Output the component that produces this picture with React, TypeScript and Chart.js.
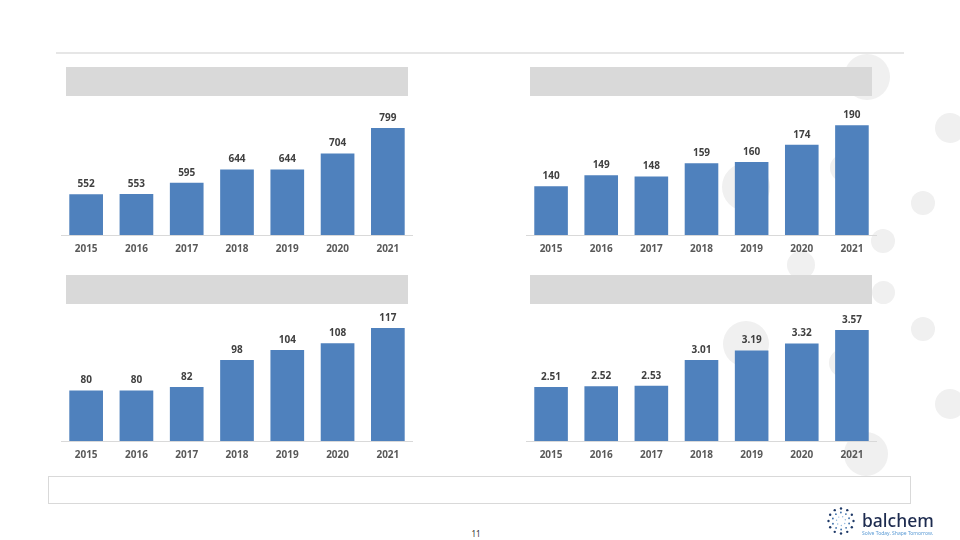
import React, { useEffect, useRef } from "react";
import { Chart, registerables } from "chart.js";

Chart.register(...registerables);

const years = ["2015", "2016", "2017", "2018", "2019", "2020", "2021"];
const panel1Values = [552, 553, 595, 644, 644, 704, 799];
const panel2Values = [140, 149, 148, 159, 160, 174, 190];
const panel3Values = [80, 80, 82, 98, 104, 108, 117];
const panel4Values = [2.51, 2.52, 2.53, 3.01, 3.19, 3.32, 3.57];

const FONT = "'Noto Sans', 'Open Sans', sans-serif";

const labelPlugin = {
  id: "valueLabels",
  afterDatasetsDraw(chart: any, _args: any, opts: any) {
    const ctx = chart.ctx;
    const meta = chart.getDatasetMeta(0);
    const data = chart.data.datasets[0].data as number[];
    const decimals = opts && typeof opts.decimals === "number" ? opts.decimals : 0;
    ctx.save();
    ctx.font = `bold 10px ${FONT}`;
    ctx.fillStyle = "#404040";
    ctx.textAlign = "center";
    ctx.textBaseline = "middle";
    meta.data.forEach((el: any, i: number) => {
      ctx.fillText(data[i].toFixed(decimals), el.x, el.y - 10);
    });
    ctx.restore();
  },
};

type PanelProps = {
  values: number[];
  min: number;
  max: number;
  decimals: number;
  left: number;
  top: number;
  width: number;
  height: number;
};

function BarPanel({ values, min, max, decimals, left, top, width, height }: PanelProps) {
  const ref = useRef<HTMLCanvasElement>(null);
  useEffect(() => {
    const chart = new Chart(ref.current as HTMLCanvasElement, {
      type: "bar",
      data: {
        labels: years,
        datasets: [
          {
            data: values,
            backgroundColor: "#4f81bd",
            borderWidth: 0,
            barPercentage: 0.67,
            categoryPercentage: 1,
          },
        ],
      },
      options: {
        animation: false,
        responsive: false,
        maintainAspectRatio: false,
        layout: { padding: { top: 30, left: 0, right: 0, bottom: 0 } },
        plugins: {
          legend: { display: false },
          tooltip: { enabled: false },
          valueLabels: { decimals },
        } as any,
        scales: {
          x: {
            grid: { display: false, drawTicks: false },
            border: { display: true, color: "#d9d9d9", width: 1 },
            ticks: {
              padding: 8,
              color: "#595959",
              font: { family: FONT, size: 10, weight: "bold" },
              maxRotation: 0,
              autoSkip: false,
            },
            afterFit: (s: any) => {
              s.height = 30;
            },
          },
          y: { display: false, min, max },
        },
      },
      plugins: [labelPlugin],
    });
    return () => chart.destroy();
  }, []);
  return (
    <canvas
      ref={ref}
      width={width}
      height={height}
      style={{ position: "absolute", left, top, width, height }}
    />
  );
}

const circles: [number, number, number][] = [
  [867, 77, 23],
  [950, 128, 15],
  [923, 203, 12],
  [883, 241, 12],
  [801, 265, 14],
  [746, 187, 24],
  [844, 168, 14],
  [883, 292, 11.5],
  [923, 329, 12],
  [950, 404, 15],
  [746, 344, 23],
  [843, 363, 14],
  [866, 454, 22],
];

function Logo() {
  const cx = 841;
  const cy = 521;
  const dots: JSX.Element[] = [];
  const rings = [
    { r: 12.5, n: 12, c: "#1f3a68", s: 1.2 },
    { r: 8.5, n: 10, c: "#3b6ea8", s: 0.9 },
    { r: 4.5, n: 7, c: "#8fb6dc", s: 0.7 },
  ];
  rings.forEach((ring, ri) => {
    for (let k = 0; k < ring.n; k++) {
      const a = (k / ring.n) * Math.PI * 2 + ri * 0.3;
      dots.push(
        <circle
          key={`${ri}-${k}`}
          cx={cx + ring.r * Math.cos(a)}
          cy={cy + ring.r * Math.sin(a)}
          r={ring.s}
          fill={ring.c}
        />
      );
    }
  });
  return (
    <svg
      width={960}
      height={540}
      style={{ position: "absolute", left: 0, top: 0, pointerEvents: "none" }}
    >
      {dots}
      <text
        x={862}
        y={527}
        fontFamily="'Noto Sans', sans-serif"
        fontSize={17.5}
        fontWeight={500}
        fill="#1d2b4f"
      >
        balchem
      </text>
      <text x={862} y={534.5} fontFamily="'Noto Sans', sans-serif" fontSize={5} fill="#5b9bd5">
        Solve Today. Shape Tomorrow.
      </text>
    </svg>
  );
}

export default function App() {
  const headers: [number, number][] = [
    [66, 67],
    [530, 67],
    [66, 275],
    [530, 275],
  ];
  return (
    <div
      style={{
        position: "absolute",
        left: 0,
        top: 0,
        width: 960,
        height: 540,
        background: "#ffffff",
        overflow: "hidden",
      }}
    >
      {circles.map(([x, y, r], i) => (
        <div
          key={i}
          style={{
            position: "absolute",
            left: x - r,
            top: y - r,
            width: r * 2,
            height: r * 2,
            borderRadius: "50%",
            background: "#f0f0f0",
          }}
        />
      ))}
      <div
        style={{
          position: "absolute",
          left: 56,
          top: 52,
          width: 848,
          height: 2,
          background: "#e6e6e6",
        }}
      />
      {headers.map(([x, y], i) => (
        <div
          key={i}
          style={{
            position: "absolute",
            left: x,
            top: y,
            width: 342,
            height: 29,
            background: "#d9d9d9",
          }}
        />
      ))}
      <BarPanel values={panel1Values} min={400} max={900} decimals={0} left={61} top={71} width={352} height={194} />
      <BarPanel values={panel2Values} min={100} max={210} decimals={0} left={526} top={71} width={351} height={194} />
      <BarPanel values={panel3Values} min={50} max={130} decimals={0} left={61} top={276} width={352} height={195} />
      <BarPanel values={panel4Values} min={1.5} max={4.02} decimals={2} left={526} top={276} width={351} height={195} />
      <div
        style={{
          position: "absolute",
          left: 48,
          top: 476,
          width: 861,
          height: 26,
          border: "1.5px solid #d9d9d9",
          background: "#ffffff",
        }}
      />
      <div
        style={{
          position: "absolute",
          left: 456,
          top: 529,
          width: 40,
          textAlign: "center",
          fontFamily: FONT,
          fontSize: 8,
          lineHeight: "10px",
          color: "#333333",
        }}
      >
        11
      </div>
      <Logo />
    </div>
  );
}
